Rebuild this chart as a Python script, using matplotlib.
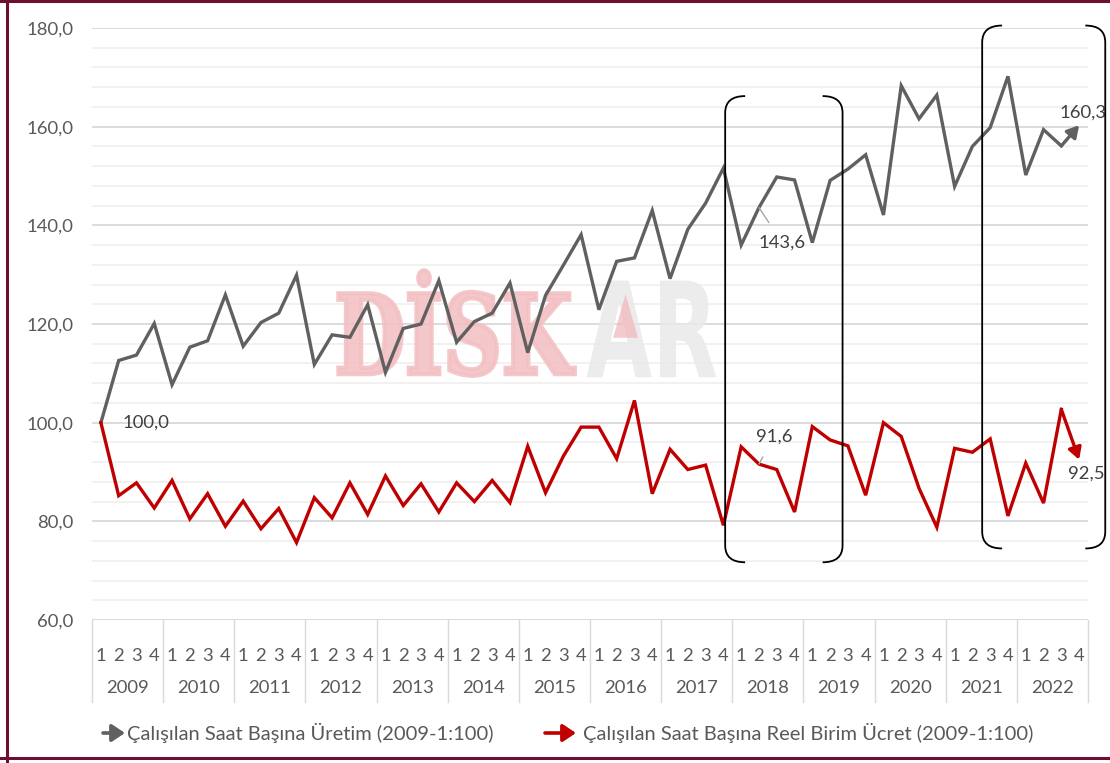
import matplotlib
matplotlib.use("Agg")
import matplotlib.pyplot as plt
import numpy as np
from matplotlib.textpath import TextPath
from matplotlib.patches import PathPatch, Polygon, FancyArrowPatch
from matplotlib.path import Path
from matplotlib.font_manager import FontProperties
from matplotlib.transforms import Affine2D, blended_transform_factory

plt.rcParams['font.family'] = ['Lato', 'DejaVu Sans']

# ---------------- data ----------------
years = ['2009', '2010', '2011', '2012', '2013', '2014', '2015',
         '2016', '2017', '2018', '2019', '2020', '2021', '2022']
quarters = ['1', '2', '3', '4']

productivity = [100.0, 112.6, 113.7, 120.1, 107.7, 115.3, 116.6, 125.9,
                115.5, 120.3, 122.2, 129.9, 111.8, 117.8, 117.3, 123.9,
                110.2, 119.1, 120.0, 128.8, 116.3, 120.5, 122.2, 128.3,
                114.2, 125.8, 131.9, 138.1, 122.9, 132.7, 133.4, 143.0,
                129.2, 139.2, 144.5, 151.6, 136.0, 143.6, 149.8, 149.2,
                136.5, 149.1, 151.4, 154.3, 142.1, 168.3, 161.6, 166.4,
                147.9, 156.0, 159.8, 170.2, 150.2, 159.4, 156.1, 160.3]

real_wage = [100.0, 85.2, 87.8, 82.7, 88.3, 80.5, 85.6, 79.0,
             84.1, 78.5, 82.6, 75.7, 84.8, 80.7, 87.8, 81.4,
             89.2, 83.2, 87.6, 81.9, 87.8, 84.0, 88.3, 83.8,
             95.2, 85.8, 93.2, 99.1, 99.1, 92.7, 104.5, 85.6,
             94.6, 90.5, 91.4, 79.2, 95.1, 91.6, 90.5, 81.9,
             99.2, 96.5, 95.3, 85.3, 100.0, 97.2, 86.7, 78.8,
             94.8, 94.0, 96.7, 81.1, 91.8, 83.7, 102.7, 92.5]

series_names = ['Çalışılan Saat Başına Üretim (2009-1:100)',
                'Çalışılan Saat Başına Reel Birim Ücret (2009-1:100)']

# ---------------- styling ----------------
GRAY = '#606060'
RED = '#c00000'
TXT = '#595959'
LAB = '#404040'
FS = 13.3

W, H = 1110, 763
fig = plt.figure(figsize=(W / 100, H / 100), dpi=100)
ax = fig.add_axes([92 / W, 1 - 620 / H, (1088 - 92) / W, (620 - 28) / H])

n = len(productivity)
x = np.arange(n)
ax.set_xlim(-0.5, n - 0.5)
ax.set_ylim(60, 180)

# grid
for v in np.arange(60, 181, 4):
    if v % 20 == 0:
        ax.axhline(v, color='#d9d9d9', lw=1.3, zorder=0.2)
    else:
        ax.axhline(v, color='#efefef', lw=1.2, zorder=0.1)

for s in ['top', 'right', 'left', 'bottom']:
    ax.spines[s].set_visible(False)

ax.set_yticks(np.arange(60, 181, 20))
ax.set_yticklabels([f'{v:.1f}'.replace('.', ',') for v in np.arange(60, 181, 20)],
                   fontsize=FS, color=TXT)
ax.tick_params(axis='y', length=0, pad=13.5)

# category axis (two levels)
ax.set_xticks(x)
ax.set_xticklabels([quarters[i % 4] for i in range(n)], fontsize=FS, color=TXT)
ax.tick_params(axis='x', length=0, pad=20)
trans = blended_transform_factory(ax.transData, ax.transAxes)
for k in range(len(years) + 1):
    ax.plot([4 * k - 0.5, 4 * k - 0.5], [0, -82 / 592], transform=trans,
            color='#d9d9d9', lw=1.0, clip_on=False)
for k, yname in enumerate(years):
    ax.text(4 * k + 1.5, -68 / 592, yname, transform=trans, ha='center', va='center',
            fontsize=FS, color=TXT)

# watermark
def path_text(s, x0, x1, y0, y1, color, prop, alpha=1.0, lw=0):
    tp = TextPath((0, 0), s, size=1, prop=prop)
    bb = tp.get_extents()
    tr = (Affine2D().translate(-bb.x0, -bb.y0)
          .scale((x1 - x0) / bb.width, (y1 - y0) / bb.height).translate(x0, y0))
    ax.add_patch(PathPatch(tr.transform_path(tp), fc=color, ec=color if lw else 'none',
                           lw=lw, alpha=alpha, zorder=0.5, joinstyle='miter'))

path_text('DİSK', 13.35, 26.65, 109.5, 130.9, '#f3bfc2',
          FontProperties(family='DejaVu Serif', weight='bold'), alpha=0.85, lw=3)
path_text('AR', 27.3, 34.6, 109.2, 128.8, '#e9e9e9',
          FontProperties(family='DejaVu Sans', weight='bold'), alpha=0.85)
ax.add_patch(Polygon([[29.5, 126.0], [28.8, 117.2], [30.2, 117.2]], closed=True,
                     fc='#f2b9bc', ec='none', alpha=0.75, zorder=0.55))

# series
ax.plot(x[:-1], productivity[:-1], color=GRAY, lw=2.4, zorder=3, solid_joinstyle='miter')
ax.plot(x[:-1], real_wage[:-1], color=RED, lw=2.4, zorder=3, solid_joinstyle='miter')
for ser, col in [(productivity, GRAY), (real_wage, RED)]:
    ax.annotate('', xy=(n - 1, ser[-1]), xytext=(n - 2, ser[-2]),
                arrowprops=dict(arrowstyle='-|>,head_length=0.7,head_width=0.4',
                                color=col, lw=2.4, shrinkA=0, shrinkB=0), zorder=3)

# labels
ax.text(1.2, 100.0, '100,0', fontsize=FS, color=LAB, va='center', ha='left')
ax.annotate('143,6', xy=(37, productivity[37]), xytext=(38.3, 136.5),
            fontsize=FS, color=LAB, ha='center', va='center',
            arrowprops=dict(arrowstyle='-', color='#a6a6a6', lw=1, shrinkA=8, shrinkB=0))
ax.annotate('91,6', xy=(37, real_wage[37]), xytext=(37.85, 97.2),
            fontsize=FS, color=LAB, ha='center', va='center',
            arrowprops=dict(arrowstyle='-', color='#a6a6a6', lw=1, shrinkA=8, shrinkB=0))
ax.text(53.9, 162.8, f'{productivity[-1]:.1f}'.replace('.', ','), fontsize=FS,
        color=LAB, ha='left', va='center', clip_on=False)
ax.text(54.4, 89.6, f'{real_wage[-1]:.1f}'.replace('.', ','), fontsize=FS,
        color=LAB, ha='left', va='center', clip_on=False)

# brackets
def bracket(xl, xr, yb, yt, ry=3.4, ext=1.12):
    for xs, sgn in [(xl, 1), (xr, -1)]:
        verts = [(xs + sgn * ext, yt), (xs, yt), (xs, yt - ry),
                 (xs, yb + ry), (xs, yb), (xs + sgn * ext, yb)]
        codes = [Path.MOVETO, Path.CURVE3, Path.CURVE3, Path.LINETO, Path.CURVE3, Path.CURVE3]
        ax.add_patch(PathPatch(Path(verts, codes), fc='none', ec='black', lw=1.3,
                               zorder=4, clip_on=False))

bracket(35.1, 41.7, 71.7, 166.2)
bracket(49.55, 56.47, 74.5, 180.5)

# legend (custom arrows)
LFS = 14.5
for (x0, x1, tx), col, name in [((103, 125, 127), GRAY, series_names[0]),
                                ((545, 576, 583), RED, series_names[1])]:
    fig.add_artist(FancyArrowPatch(
        (x0 / W, 30 / H), (x1 / W, 30 / H), transform=fig.transFigure,
        arrowstyle='-|>,head_length=6,head_width=4', color=col, lw=2.6,
        shrinkA=0, shrinkB=0, mutation_scale=1.3))
    fig.text(tx / W, 30 / H, name, fontsize=LFS, color=TXT, ha='left', va='center')

# outer frame
frame = '#6b1030'
fig.add_artist(plt.Line2D([7 / W, 7 / W], [0 / H, 1], transform=fig.transFigure, color=frame, lw=2.2))
fig.add_artist(plt.Line2D([0, 1], [1 - 1.2 / H, 1 - 1.2 / H], transform=fig.transFigure, color=frame, lw=2.2))
fig.add_artist(plt.Line2D([0, 1], [1 - 758 / H, 1 - 758 / H], transform=fig.transFigure, color=frame, lw=2.2))

fig.savefig('out.png', dpi=100)
